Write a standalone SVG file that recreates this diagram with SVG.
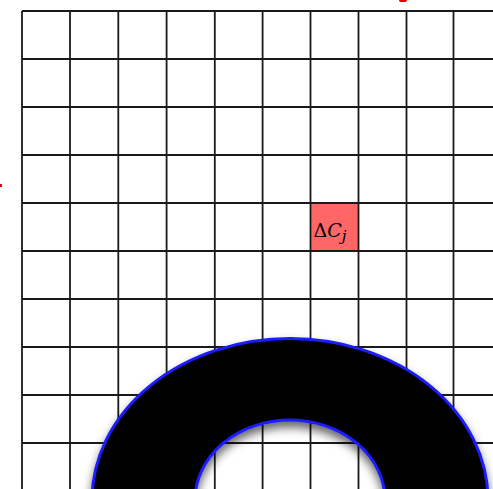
<svg xmlns="http://www.w3.org/2000/svg" width="493" height="489" viewBox="0 0 493 489">
<style>
.grid line{stroke:#1a1a1a;stroke-width:1.8}
.lbl{font-family:"DejaVu Serif","Liberation Serif",serif;font-size:19px;fill:#000}
</style>
<defs>
<filter id="sh" x="-20%" y="-20%" width="140%" height="140%">
<feDropShadow dx="0" dy="6" stdDeviation="5" flood-color="#000" flood-opacity="0.6"/>
</filter>
</defs>
<rect width="493" height="489" fill="#fff"/>
<g id="cell">
<rect x="310.5" y="203" width="48" height="48" fill="#ff6666"/>
</g>
<g id="grid" class="grid">
<line x1="22" y1="11" x2="22" y2="489"/>
<line x1="70" y1="11" x2="70" y2="489"/>
<line x1="118.3" y1="11" x2="118.3" y2="489"/>
<line x1="166.6" y1="11" x2="166.6" y2="489"/>
<line x1="214.8" y1="11" x2="214.8" y2="489"/>
<line x1="262.6" y1="11" x2="262.6" y2="489"/>
<line x1="310.5" y1="11" x2="310.5" y2="489"/>
<line x1="358.5" y1="11" x2="358.5" y2="489"/>
<line x1="406.5" y1="11" x2="406.5" y2="489"/>
<line x1="453.5" y1="11" x2="453.5" y2="489"/>
<line x1="22" y1="11" x2="493" y2="11"/>
<line x1="22" y1="59" x2="493" y2="59"/>
<line x1="22" y1="107" x2="493" y2="107"/>
<line x1="22" y1="155" x2="493" y2="155"/>
<line x1="22" y1="203" x2="493" y2="203"/>
<line x1="22" y1="251" x2="493" y2="251"/>
<line x1="22" y1="299" x2="493" y2="299"/>
<line x1="22" y1="347" x2="493" y2="347"/>
<line x1="22" y1="395" x2="493" y2="395"/>
<line x1="22" y1="443" x2="493" y2="443"/>
</g>
<g id="label">
<text class="lbl" x="313.5" y="237">Δ<tspan font-style="italic">C</tspan><tspan font-style="italic" font-size="15" dy="4">j</tspan></text>
</g>
<g id="marks" fill="#e00000">
<ellipse cx="403" cy="0.5" rx="4" ry="1.6"/>
<rect x="0" y="184" width="2" height="3"/>
</g>
<g id="arch">
<path d="M92,500 A198,161.5 0 0 1 488,500 L385,500 A95,80 0 0 0 195,500 Z" fill="#000" stroke="#1a1aff" stroke-width="3" filter="url(#sh)"/>
</g>
</svg>
